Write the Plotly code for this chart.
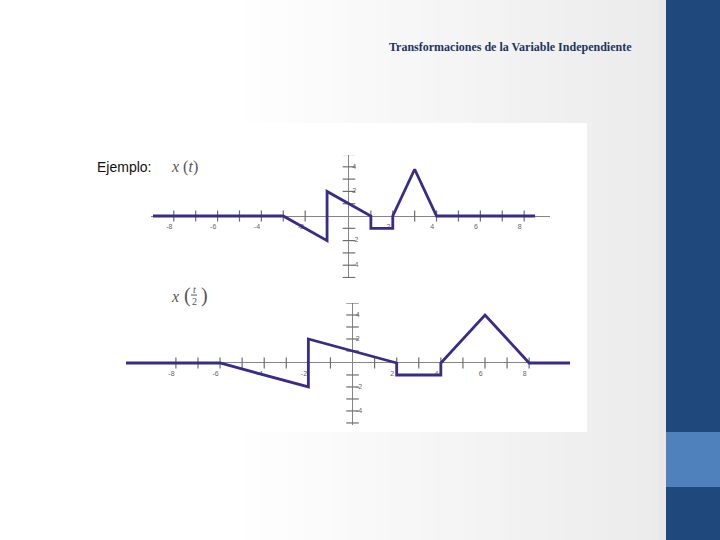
import plotly.graph_objects as go

# ---------------- data ----------------
# x(t)
t_top = [-8.95, -3, -1, -1, 1, 1, 2, 2, 3, 4, 8.5]
x_top = [0, 0, -2, 2, 0, -1, -1, 0, 3.8, 0, 0]
# x(t/2)
t_bot = [-10.26, -6, -2, -2, 2, 2, 4, 4, 6, 8, 9.85]
x_bot = [0, 0, -2, 2, 0, -1, -1, 0, 4, 0, 0]

x_ticks = [-8, -7, -6, -5, -4, -3, -2, -1, 1, 2, 3, 4, 5, 6, 7, 8]
y_ticks = [-5, -4, -3, -2, -1, 1, 2, 3, 4, 5]
x_tick_labels = [-8, -6, -4, -2, 2, 4, 6, 8]
y_tick_labels = [-4, -2, 2, 4]

W, H = 720, 540
LINE_COLOR = "#372C8A"
AXIS_COLOR = "#858585"
TICK_COLOR = "#6e6e6e"
LABEL_COLOR = "#666666"


def px(x):
    return x / W


def py(y):
    return 1 - y / H


fig = go.Figure()

panels = [
    ("x", "y", t_top, x_top),
    ("x2", "y2", t_bot, x_bot),
]

for xa, ya, tt, xx in panels:
    # tick marks on the x axis
    fig.add_trace(go.Scatter(
        x=x_ticks, y=[0] * len(x_ticks), xaxis=xa, yaxis=ya, mode="markers",
        marker=dict(symbol="line-ns", size=8, line=dict(width=1.2, color=TICK_COLOR)),
        hoverinfo="skip", showlegend=False))
    # tick marks on the y axis
    fig.add_trace(go.Scatter(
        x=[0] * len(y_ticks), y=y_ticks, xaxis=xa, yaxis=ya, mode="markers",
        marker=dict(symbol="line-ew", size=9, line=dict(width=1.2, color=TICK_COLOR)),
        hoverinfo="skip", showlegend=False))
    # x tick labels
    fig.add_trace(go.Scatter(
        x=[v - 0.2 for v in x_tick_labels], y=[-0.9] * len(x_tick_labels),
        xaxis=xa, yaxis=ya, mode="text", text=[str(v) for v in x_tick_labels],
        textfont=dict(size=7, color=LABEL_COLOR, family="Liberation Sans"),
        hoverinfo="skip", showlegend=False))
    # y tick labels
    fig.add_trace(go.Scatter(
        x=[0.15] * len(y_tick_labels), y=y_tick_labels,
        xaxis=xa, yaxis=ya, mode="text", text=[str(v) for v in y_tick_labels],
        textposition="middle right",
        textfont=dict(size=7, color=LABEL_COLOR, family="Liberation Sans"),
        hoverinfo="skip", showlegend=False))
    # signal
    fig.add_trace(go.Scatter(
        x=tt, y=xx, xaxis=xa, yaxis=ya, mode="lines",
        line=dict(color=LINE_COLOR, width=2.8),
        hoverinfo="skip", showlegend=False))

axis_common = dict(showgrid=False, showticklabels=False, showline=False, ticks="",
                   zeroline=True, zerolinecolor=AXIS_COLOR, zerolinewidth=1, fixedrange=True)

fig.update_layout(
    xaxis=dict(domain=[px(151), px(550)], range=[-9.04, 9.18], anchor="y", **axis_common),
    yaxis=dict(domain=[py(278), py(155)], range=[-5.04, 4.96], anchor="x", **axis_common),
    xaxis2=dict(domain=[px(126), px(570)], range=[-10.26, 9.85], anchor="y2", **axis_common),
    yaxis2=dict(domain=[py(425), py(303)], range=[-5.17, 5.0], anchor="x2", **axis_common),
)

# ---------------- slide decoration ----------------
shapes = []
n = 30
x0g, x1g = 230, 666
for i in range(n):
    a = x0g + (x1g - x0g) * i / n
    b = x0g + (x1g - x0g) * (i + 1) / n + 1
    f = (i + 0.5) / n
    g = int(round(255 - 20 * f))
    shapes.append(dict(type="rect", xref="paper", yref="paper",
                       x0=px(a), x1=px(b), y0=0, y1=1,
                       fillcolor=f"rgb({g},{g},{g})", line=dict(width=0), layer="below"))
shapes.append(dict(type="rect", xref="paper", yref="paper", x0=px(659), x1=px(667),
                   y0=0, y1=1, fillcolor="#E9E7E8", line=dict(width=0), layer="below"))
shapes.append(dict(type="rect", xref="paper", yref="paper", x0=px(666), x1=1,
                   y0=0, y1=1, fillcolor="#1F497D", line=dict(width=0), layer="below"))
shapes.append(dict(type="rect", xref="paper", yref="paper", x0=px(666), x1=1,
                   y0=py(487), y1=py(432), fillcolor="#4F81BD", line=dict(width=0), layer="below"))
shapes.append(dict(type="rect", xref="paper", yref="paper", x0=px(87), x1=px(587),
                   y0=py(432), y1=py(123), fillcolor="#FFFFFF", line=dict(width=0), layer="below"))
shapes.append(dict(type="line", xref="paper", yref="paper", x0=px(191), x1=px(197),
                   y0=py(295), y1=py(295), line=dict(color="#555555", width=1)))

annotations = [
    dict(text="<b>Transformaciones de la Variable Independiente</b>", x=px(510), y=py(47),
         xref="paper", yref="paper", showarrow=False, xanchor="center", yanchor="middle",
         font=dict(family="Liberation Serif, Times New Roman, serif",
                   size=12, color="#1C355E")),
    dict(text="Ejemplo:", x=px(95), y=py(167), xref="paper", yref="paper", showarrow=False,
         xanchor="left", yanchor="middle",
         font=dict(family="Liberation Sans, Arial", size=14, color="#111111")),
    dict(text="<i>x</i> (<i>t</i>)", x=px(169), y=py(167), xref="paper", yref="paper",
         showarrow=False, xanchor="left", yanchor="middle",
         font=dict(family="Liberation Serif, DejaVu Serif", size=16, color="#555555")),
    dict(text="<i>x</i>", x=px(169), y=py(296), xref="paper", yref="paper",
         showarrow=False, xanchor="left", yanchor="middle",
         font=dict(family="Liberation Serif, DejaVu Serif", size=16, color="#555555")),
    dict(text="(", x=px(182), y=py(295), xref="paper", yref="paper",
         showarrow=False, xanchor="left", yanchor="middle",
         font=dict(family="Liberation Serif, DejaVu Serif", size=20, color="#555555")),
    dict(text="<i>t</i>", x=px(194), y=py(289), xref="paper", yref="paper",
         showarrow=False, xanchor="center", yanchor="middle",
         font=dict(family="Liberation Serif, DejaVu Serif", size=10, color="#555555")),
    dict(text="2", x=px(194), y=py(301), xref="paper", yref="paper",
         showarrow=False, xanchor="center", yanchor="middle",
         font=dict(family="Liberation Serif, DejaVu Serif", size=10, color="#555555")),
    dict(text=")", x=px(199), y=py(295), xref="paper", yref="paper",
         showarrow=False, xanchor="left", yanchor="middle",
         font=dict(family="Liberation Serif, DejaVu Serif", size=20, color="#555555")),
]

fig.update_layout(
    width=W, height=H, margin=dict(l=0, r=0, t=0, b=0),
    paper_bgcolor="#FFFFFF", plot_bgcolor="rgba(0,0,0,0)",
    shapes=shapes, annotations=annotations, showlegend=False,
)

fig.write_html("out.html", config={"displayModeBar": False},
               post_script="document.body.style.margin='0';document.body.style.overflow='hidden';")
